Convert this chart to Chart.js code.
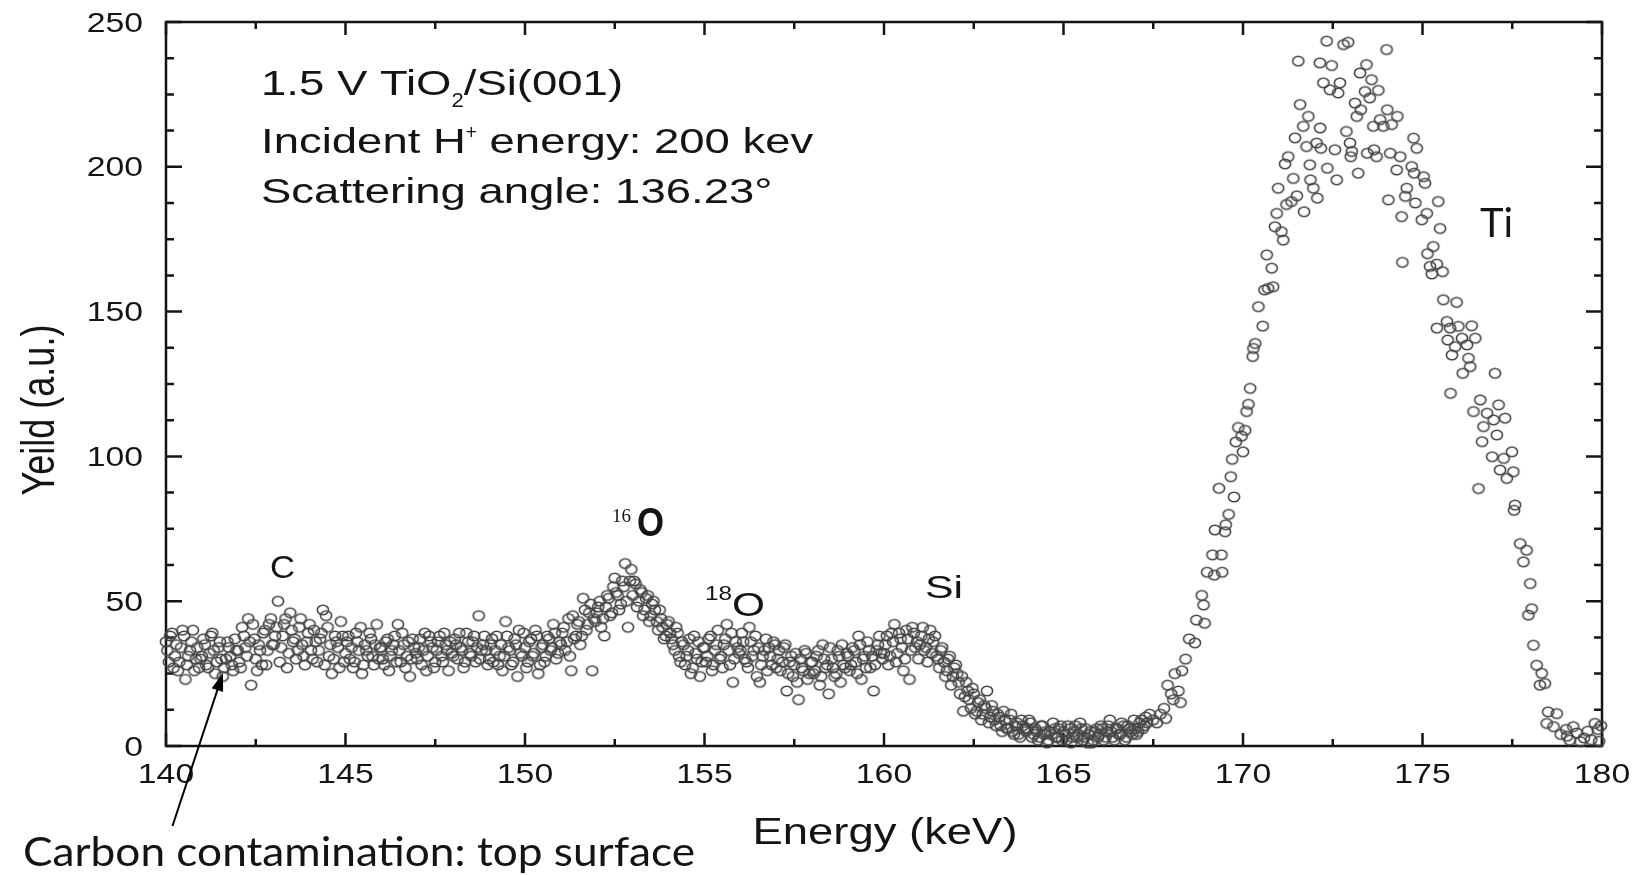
<!DOCTYPE html>
<html>
<head>
<meta charset="utf-8">
<title>RBS spectrum TiO2/Si(001)</title>
<script src="https://cdn.jsdelivr.net/npm/chart.js@4.4.1/dist/chart.umd.min.js"></script>
<style>
  html, body { margin: 0; padding: 0; background: #fff; }
  #wrap { width: 1635px; height: 875px; }
</style>
</head>
<body>
<div id="wrap"><canvas id="chart" width="1635" height="875"></canvas></div>
<script>
// axis ranges and tick labels
const xTicks = [140, 145, 150, 155, 160, 165, 170, 175, 180];
const yTicks = [0, 50, 100, 150, 200, 250];
const xMinorStep = 2.5;
const yMinorStep = 12.5;

// measured spectrum: energy (keV) and yield (a.u.)
const energyKeV = [
  140.04, 140.12, 140.21, 140.29, 140.37, 140.46, 140.54, 140.62, 140.71, 140.79, 140.87, 140.96,
  141.04, 141.12, 141.21, 141.29, 141.37, 141.46, 141.54, 141.62, 141.71, 141.79, 141.87, 141.96,
  142.04, 142.12, 142.21, 142.29, 142.37, 142.46, 142.54, 142.62, 142.71, 142.79, 142.87, 142.96,
  143.04, 143.12, 143.21, 143.29, 143.37, 143.46, 143.54, 143.62, 143.71, 143.79, 143.87, 143.96,
  144.04, 144.12, 144.21, 144.29, 144.37, 144.46, 144.54, 144.62, 144.71, 144.79, 144.87, 144.96,
  145.04, 145.12, 145.21, 145.29, 145.37, 145.46, 145.54, 145.62, 145.71, 145.79, 145.87, 145.96,
  146.04, 146.12, 146.21, 146.29, 146.37, 146.46, 146.54, 146.62, 146.71, 146.79, 146.87, 146.96,
  147.04, 147.12, 147.21, 147.29, 147.37, 147.46, 147.54, 147.62, 147.71, 147.79, 147.87, 147.96,
  148.04, 148.12, 148.21, 148.29, 148.37, 148.46, 148.54, 148.62, 148.71, 148.79, 148.87, 148.96,
  149.04, 149.12, 149.21, 149.29, 149.37, 149.46, 149.54, 149.62, 149.71, 149.79, 149.87, 149.96,
  150.04, 150.12, 150.21, 150.29, 150.37, 150.46, 150.54, 150.62, 150.71, 150.79, 150.87, 150.96,
  151.04, 151.12, 151.21, 151.29, 151.37, 151.46, 151.54, 151.62, 151.71, 151.79, 151.87, 151.96,
  152.04, 152.12, 152.21, 152.29, 152.37, 152.46, 152.54, 152.62, 152.71, 152.79, 152.87, 152.96,
  153.04, 153.12, 153.21, 153.29, 153.37, 153.46, 153.54, 153.62, 153.71, 153.79, 153.87, 153.96,
  154.04, 154.12, 154.21, 154.29, 154.37, 154.46, 154.54, 154.62, 154.71, 154.79, 154.87, 154.96,
  155.04, 155.12, 155.21, 155.29, 155.37, 155.46, 155.54, 155.62, 155.71, 155.79, 155.87, 155.96,
  156.04, 156.12, 156.21, 156.29, 156.37, 156.46, 156.54, 156.62, 156.71, 156.79, 156.87, 156.96,
  157.04, 157.12, 157.21, 157.29, 157.37, 157.46, 157.54, 157.62, 157.71, 157.79, 157.87, 157.96,
  158.04, 158.12, 158.21, 158.29, 158.37, 158.46, 158.54, 158.62, 158.71, 158.79, 158.87, 158.96,
  159.04, 159.12, 159.21, 159.29, 159.37, 159.46, 159.54, 159.62, 159.71, 159.79, 159.87, 159.96,
  160.04, 160.12, 160.21, 160.29, 160.37, 160.46, 160.54, 160.62, 160.71, 160.79, 160.87, 160.96,
  161.04, 161.12, 161.21, 161.29, 161.37, 161.46, 161.54, 161.62, 161.71, 161.79, 161.87, 161.96,
  162.04, 162.12, 162.21, 162.29, 162.37, 162.46, 162.54, 162.62, 162.71, 162.79, 162.87, 162.96,
  163.04, 163.12, 163.21, 163.29, 163.37, 163.46, 163.54, 163.62, 163.71, 163.79, 163.87, 163.96,
  164.04, 164.12, 164.21, 164.29, 164.37, 164.46, 164.54, 164.62, 164.71, 164.79, 164.87, 164.96,
  165.04, 165.12, 165.21, 165.29, 165.37, 165.46, 165.54, 165.62, 165.71, 165.79, 165.87, 165.96,
  166.04, 166.12, 166.21, 166.29, 166.37, 166.46, 166.54, 166.62, 166.71, 166.79, 166.87, 166.96,
  167.04, 167.12, 167.21, 167.29, 167.40, 167.50, 167.60, 167.70, 167.80, 167.85, 167.90, 168.00,
  168.06, 168.10, 168.20, 168.26, 168.30, 168.40, 168.50, 168.66, 168.70, 168.85, 168.90, 168.93,
  169.00, 169.15, 169.20, 169.22, 169.33, 169.40, 169.42, 169.50, 169.52, 169.60, 169.66, 169.70,
  169.75, 169.80, 169.87, 169.96, 170.00, 170.06, 170.10, 170.15, 170.20, 170.27, 170.29, 170.34,
  170.43, 170.55, 170.60, 170.66, 170.70, 170.80, 170.84, 170.89, 170.94, 170.98, 171.07, 171.12,
  171.17, 171.21, 171.26, 171.35, 171.40, 171.45, 171.50, 171.54, 171.59, 171.68, 171.70, 171.77,
  171.82, 171.86, 171.88, 171.96, 172.05, 172.07, 172.14, 172.15, 172.17, 172.24, 172.33, 172.35,
  172.42, 172.47, 172.56, 172.61, 172.65, 172.70, 172.80, 172.88, 172.93, 172.98, 173.00, 173.03,
  173.12, 173.17, 173.21, 173.26, 173.28, 173.40, 173.44, 173.46, 173.53, 173.58, 173.63, 173.65,
  173.72, 173.77, 173.82, 173.91, 174.00, 174.02, 174.05, 174.10, 174.14, 174.28, 174.30, 174.38,
  174.42, 174.44, 174.52, 174.56, 174.70, 174.75, 174.77, 174.80, 174.84, 174.98, 175.03, 175.07,
  175.12, 175.14, 175.21, 175.26, 175.30, 175.40, 175.44, 175.49, 175.56, 175.58, 175.95, 175.40,
  175.68, 175.70, 175.77, 175.78, 175.82, 175.91, 176.00, 176.10, 176.12, 176.24, 176.28, 176.33,
  176.37, 176.42, 176.47, 176.56, 176.61, 176.66, 176.70, 176.80, 176.94, 176.98, 177.02, 177.07,
  177.12, 177.16, 177.26, 177.30, 177.35, 177.49, 177.53, 177.55, 177.58, 177.72, 177.81, 177.90,
  177.95, 178.00, 178.04, 178.09, 178.18, 178.27, 178.32, 178.41, 178.46, 178.50, 178.65, 178.74,
  178.85, 179.00, 179.03, 179.10, 179.20, 179.30, 179.40, 179.50, 179.60, 179.70, 179.80, 179.88,
  179.92, 179.97,
  // second pass over the low-energy background
  140.00, 140.08, 140.17, 140.25, 140.33, 140.42, 140.50, 140.58, 140.67, 140.75, 140.83, 140.92,
  141.00, 141.08, 141.17, 141.25, 141.33, 141.42, 141.50, 141.58, 141.67, 141.75, 141.83, 141.92,
  142.00, 142.08, 142.17, 142.25, 142.33, 142.42, 142.50, 142.58, 142.67, 142.75, 142.83, 142.92,
  143.00, 143.08, 143.17, 143.25, 143.33, 143.42, 143.50, 143.58, 143.67, 143.75, 143.83, 143.92,
  144.00, 144.08, 144.17, 144.25, 144.33, 144.42, 144.50, 144.58, 144.67, 144.75, 144.83, 144.92,
  145.00, 145.08, 145.17, 145.25, 145.33, 145.42, 145.50, 145.58, 145.67, 145.75, 145.83, 145.92,
  146.00, 146.08, 146.17, 146.25, 146.33, 146.42, 146.50, 146.58, 146.67, 146.75, 146.83, 146.92,
  147.00, 147.08, 147.17, 147.25, 147.33, 147.42, 147.50, 147.58, 147.67, 147.75, 147.83, 147.92,
  148.00, 148.08, 148.17, 148.25, 148.33, 148.42, 148.50, 148.58, 148.67, 148.75, 148.83, 148.92,
  149.00, 149.08, 149.17, 149.25, 149.33, 149.42, 149.50, 149.58, 149.67, 149.75, 149.83, 149.92,
  150.00, 150.08, 150.17, 150.25, 150.33, 150.42, 150.50, 150.58, 150.67, 150.75, 150.83, 150.92,
  151.00, 151.08, 151.17, 151.25, 151.33, 151.42, 151.50, 151.58, 151.67, 151.75, 151.83, 151.92,
  152.00, 152.08, 152.17, 152.25, 152.33, 152.42, 152.50, 152.58, 152.67, 152.75, 152.83, 152.92,
  153.00, 153.08, 153.17, 153.25, 153.33, 153.42, 153.50, 153.58, 153.67, 153.75, 153.83, 153.92,
  154.00, 154.08, 154.17, 154.25, 154.33, 154.42, 154.50, 154.58, 154.67, 154.75, 154.83, 154.92,
  155.00, 155.08, 155.17, 155.25, 155.33, 155.42, 155.50, 155.58, 155.67, 155.75, 155.83, 155.92,
  156.00, 156.08, 156.17, 156.25, 156.33, 156.42, 156.50, 156.58, 156.67, 156.75, 156.83, 156.92,
  157.00, 157.08, 157.17, 157.25, 157.33, 157.42, 157.50, 157.58, 157.67, 157.75, 157.83, 157.92,
  158.00, 158.08, 158.17, 158.25, 158.33, 158.42, 158.50, 158.58, 158.67, 158.75, 158.83, 158.92,
  159.00, 159.08, 159.17, 159.25, 159.33, 159.42, 159.50, 159.58, 159.67, 159.75, 159.83, 159.92,
  160.00, 160.08, 160.17, 160.25, 160.33, 160.42, 160.50, 160.58, 160.67, 160.75, 160.83, 160.92,
  161.00, 161.08, 161.17, 161.25, 161.33, 161.42, 161.50, 161.58, 161.67, 161.75, 161.83, 161.92,
  162.00, 162.08, 162.17, 162.25, 162.33, 162.42, 162.50, 162.58, 162.67, 162.75, 162.83, 162.92,
  163.00, 163.08, 163.17, 163.25, 163.33, 163.42, 163.50, 163.58, 163.67, 163.75, 163.83, 163.92,
  164.00, 164.08, 164.17, 164.25, 164.33, 164.42, 164.50, 164.58, 164.67, 164.75, 164.83, 164.92,
  165.00, 165.08, 165.17, 165.25, 165.33, 165.42, 165.50, 165.58, 165.67, 165.75, 165.83, 165.92,
  166.00, 166.08, 166.17, 166.25, 166.33, 166.42, 166.50, 166.58, 166.67, 166.75, 166.83, 166.92,
  167.00, 167.08, 167.17, 167.25, 167.33
];

const yieldAu = [
  33, 38, 27, 35, 29, 40, 23, 31, 36, 26, 34, 30,
  37, 28, 32, 39, 25, 34, 30, 27, 36, 31, 26, 33,
  29, 41, 34, 44, 21, 37, 26, 33, 39, 28, 42, 35,
  38, 50, 34, 42, 27, 46, 36, 30, 41, 35, 28, 39,
  33, 40, 29, 37, 47, 45, 31, 25, 38, 34, 43, 29,
  36, 30, 27, 39, 33, 25, 35, 31, 37, 28, 42, 34,
  30, 36, 26, 33, 38, 42, 29, 35, 31, 24, 37, 32,
  34, 28, 39, 31, 36, 27, 33, 38, 29, 35, 26, 32,
  37, 30, 34, 27, 39, 32, 36, 29, 45, 33, 38, 28,
  35, 29, 38, 31, 26, 43, 34, 28, 37, 24, 32, 39,
  27, 36, 31, 40, 25, 34, 29, 38, 33, 42, 30, 36,
  39, 33, 44, 26, 37, 42, 35, 51, 40, 46, 26, 43,
  48, 41, 38, 52, 45, 55, 53, 47, 57, 63, 41, 61,
  57, 48, 54, 45, 51, 43, 49, 47, 40, 44, 37, 42,
  39, 35, 41, 31, 36, 28, 33, 25, 38, 30, 24, 34,
  29, 37, 26, 33, 40, 31, 35, 42, 28, 22, 36, 32,
  39, 30, 27, 36, 33, 24, 22, 31, 37, 34, 28, 35,
  30, 26, 34, 19, 29, 24, 32, 16, 27, 33, 23, 29,
  25, 31, 21, 35, 27, 18, 30, 24, 33, 22, 28, 32,
  26, 34, 29, 38, 23, 31, 36, 27, 19, 33, 38, 30,
  35, 28, 39, 42, 32, 37, 26, 40, 23, 41, 34, 30,
  38, 33, 29, 40, 36, 31, 27, 34, 24, 30, 21, 27,
  25, 18, 12, 22, 16, 20, 11, 15, 9, 14, 19, 10,
  12, 7, 10, 5, 9, 6, 11, 4, 8, 3, 7, 5,
  9, 3, 6, 2, 7, 4, 1, 5, 8, 3, 6, 2,
  4, 7, 1, 5, 3, 8, 2, 6, 4, 1, 5, 3,
  7, 2, 5, 9, 3, 6, 4, 8, 2, 7, 5, 9,
  4, 8, 6, 10, 11, 9, 8, 11, 13, 9.5, 21, 18,
  16, 25, 19, 15, 26, 30, 37, 35.6, 43.5, 52, 48.7, 42.4,
  60, 66, 59, 74.6, 89, 66, 60, 74, 76.4, 80, 93, 99,
  86, 105, 110, 107, 101.6, 109, 115.5, 118, 123.5, 134.5, 137.3, 139,
  151.7, 145, 157.5, 169.6, 158, 165, 158.6, 179.3, 183.9, 192.6, 177.6, 174.7,
  201, 187, 203.5, 188, 196, 210, 190, 236.5, 221.5, 214, 184.5, 207,
  217.4, 200.7, 195.5, 192.6, 208.2, 189.2, 235.9, 213.4, 206.4, 229, 243.4, 199.5,
  226.6, 235, 205.9, 195.5, 225.5, 229, 242.2, 212.2, 243, 208.2, 203.5, 205.3,
  222, 217.4, 197.8, 232.4, 219.7, 226, 235.3, 204.7, 223.8, 230.1, 214, 205.9,
  203.5, 226.4, 216.3, 214, 240.5, 219.7, 188.6, 204.7, 214.6, 198.9, 217.4, 203.5,
  182.8, 167, 189.8, 192.6, 200.1, 209.9, 197.8, 187.5, 206.4, 181.7, 196.6, 194.3,
  183.9, 170, 165.6, 163, 172.5, 166.4, 188, 178.7, 163.8, 154.1, 153.2, 144.3,
  146.6, 140.2, 144.3, 121.8, 135, 137.9, 144.9, 140.8, 128.7, 138.5, 133.9, 131,
  145.1, 115.5, 140.8, 88.9, 119.5, 105.1, 110.3, 114.9, 99.9, 112.6, 128.7, 107.4,
  117.8, 95.3, 99.3, 113.2, 92.4, 101.6, 94.7, 81.4, 83.2, 69.9, 63.6, 67.6,
  45.2, 56.1, 47.4, 34.8, 27.9, 21, 25.1, 21.6, 7.8, 11.8, 6.7, 11.2,
  4, 5.7, 3.4, 2, 6.7, 4.5, 1.5, 2.8, 5.1, 2.2, 7.8, 5.7,
  1.6, 7,
  // second pass over the low-energy background
  36, 29, 39, 31, 26, 34, 38, 28, 33, 40, 30, 27,
  31, 35, 27, 38, 33, 29, 36, 24, 30, 34, 28, 37,
  33, 27, 38, 31, 36, 42, 30, 35, 28, 40, 33, 44,
  35, 41, 29, 38, 44, 32, 40, 37, 33, 44, 31, 36,
  42, 30, 36, 33, 39, 28, 41, 35, 30, 36, 27, 38,
  32, 38, 34, 29, 36, 41, 28, 33, 39, 31, 35, 30,
  34, 28, 37, 31, 35, 29, 33, 39, 27, 36, 30, 34,
  30, 37, 33, 26, 38, 34, 29, 36, 31, 39, 33, 36,
  31, 35, 39, 33, 29, 36, 31, 38, 34, 30, 35, 33,
  30, 37, 33, 28, 35, 31, 38, 33, 29, 35, 40, 31,
  34, 29, 37, 32, 38, 28, 35, 31, 37, 34, 39, 32,
  35, 41, 36, 31, 45, 38, 43, 38, 47, 42, 49, 44,
  46, 50, 44, 48, 51, 46, 58, 52, 49, 55, 50, 57,
  52, 56, 50, 53, 47, 52, 45, 50, 43, 47, 41, 38,
  43, 37, 33, 39, 29, 35, 31, 37, 27, 32, 36, 29,
  34, 31, 38, 28, 35, 30, 27, 37, 33, 39, 30, 34,
  33, 36, 29, 41, 31, 38, 34, 28, 33, 26, 31, 36,
  27, 33, 29, 35, 25, 31, 28, 22, 30, 26, 32, 25,
  29, 26, 33, 24, 30, 28, 34, 27, 25, 31, 35, 27,
  31, 28, 33, 25, 35, 30, 27, 33, 31, 28, 35, 32,
  32, 38, 31, 36, 29, 39, 34, 30, 37, 33, 39, 36,
  35, 41, 34, 37, 32, 38, 30, 33, 29, 26, 31, 24,
  28, 22, 24, 17, 19, 13, 18, 12, 16, 11, 13, 8,
  14, 9, 11, 7, 12, 6, 9, 5, 7, 4, 9, 6,
  6, 8, 4, 5, 3, 7, 5, 2, 4, 6, 3, 7,
  5, 2, 6, 3, 7, 4, 6, 3, 1, 5, 2, 6,
  4, 6, 3, 7, 5, 2, 6, 4, 7, 3, 6, 4,
  6, 5, 9, 7, 8
];

const points = [];
for (let i = 0; i < Math.min(energyKeV.length, yieldAu.length); i++) {
  points.push({ x: energyKeV[i], y: yieldAu[i] });
}

// open, slightly wide ring used as the marker
function ringMarker() {
  const c = document.createElement('canvas');
  c.width = 16;
  c.height = 14;
  const g = c.getContext('2d');
  g.strokeStyle = '#444';
  g.lineWidth = 1.6;
  g.beginPath();
  g.ellipse(8, 7, 5.6, 4.7, 0, 0, Math.PI * 2);
  g.stroke();
  return c;
}

const INK = '#141414';
const SANS = '"Liberation Sans", Arial, sans-serif';

// draws text squeezed/stretched horizontally, returns drawn width
function drawText(ctx, str, x, y, font, sx, align) {
  ctx.save();
  ctx.font = font;
  ctx.fillStyle = INK;
  ctx.textAlign = align || 'left';
  ctx.textBaseline = 'alphabetic';
  ctx.translate(x, y);
  ctx.scale(sx, 1);
  ctx.fillText(str, 0, 0);
  const w = ctx.measureText(str).width * sx;
  ctx.restore();
  return w;
}

// same but scaled to a given width
function fitText(ctx, str, x, y, font, width, align) {
  ctx.save();
  ctx.font = font;
  const sx = width / ctx.measureText(str).width;
  ctx.restore();
  return drawText(ctx, str, x, y, font, sx, align);
}

const framePlugin = {
  id: 'frame',
  beforeDatasetsDraw(chart) {
    const { ctx, chartArea: a, scales } = chart;
    const xs = scales.x, ys = scales.y;
    ctx.save();
    ctx.strokeStyle = INK;
    ctx.lineWidth = 2.5;
    ctx.strokeRect(a.left, a.top, a.right - a.left, a.bottom - a.top);

    ctx.beginPath();
    for (let v = xs.min; v <= xs.max + 1e-9; v += xMinorStep) {
      const px = xs.getPixelForValue(v);
      const len = xTicks.includes(v) ? 13 : 7;
      ctx.moveTo(px, a.bottom); ctx.lineTo(px, a.bottom - len);
      ctx.moveTo(px, a.top); ctx.lineTo(px, a.top + len);
    }
    for (let v = ys.min; v <= ys.max + 1e-9; v += yMinorStep) {
      const py = ys.getPixelForValue(v);
      const len = yTicks.includes(v) ? 16 : 8;
      ctx.moveTo(a.left, py); ctx.lineTo(a.left + len, py);
      ctx.moveTo(a.right, py); ctx.lineTo(a.right - len, py);
    }
    ctx.stroke();
    ctx.restore();
  },
  afterDraw(chart) {
    const { ctx, chartArea: a, scales } = chart;
    const xs = scales.x, ys = scales.y;
    const tickFont = '27px ' + SANS;

    xTicks.forEach(v => {
      drawText(ctx, String(v), xs.getPixelForValue(v), a.bottom + 37, tickFont, 1.25, 'center');
    });
    yTicks.forEach(v => {
      drawText(ctx, String(v), a.left - 23, ys.getPixelForValue(v) + 9.5, tickFont, 1.25, 'right');
    });

    // axis titles
    fitText(ctx, 'Energy (keV)', 885, 844, '36px ' + SANS, 265, 'center');
    ctx.save();
    ctx.translate(54, 410);
    ctx.rotate(-Math.PI / 2);
    ctx.scale(1, 1.3);
    ctx.font = '36px ' + SANS;
    ctx.fillStyle = INK;
    ctx.textAlign = 'center';
    ctx.fillText('Yeild (a.u.)', 0, 0);
    ctx.restore();

    // sample description
    const big = '35px ' + SANS;
    const small = '21px ' + SANS;
    let x = 261;
    x += drawText(ctx, '1.5 V TiO', x, 95, big, 1.3);
    x += drawText(ctx, '2', x, 107, small, 1.05);
    drawText(ctx, '/Si(001)', x, 95, big, 1.3);
    x = 261;
    x += drawText(ctx, 'Incident H', x, 153, big, 1.3);
    x += drawText(ctx, '+', x, 139, small, 0.9);
    drawText(ctx, ' energy: 200 kev', x, 153, big, 1.3);
    drawText(ctx, 'Scattering angle: 136.23\u00b0', 261, 203, big, 1.3);

    // peak labels
    fitText(ctx, 'C', 270, 578, '32px ' + SANS, 25);
    drawText(ctx, '16', 612, 522, '19px "Liberation Serif", serif', 1.0);
    fitText(ctx, 'O', 637, 536, 'bold 40px ' + SANS, 27);
    fitText(ctx, '18', 705, 600, '21px ' + SANS, 27);
    fitText(ctx, 'O', 732, 616, '34px ' + SANS, 33);
    fitText(ctx, 'Si', 925, 598, '32px ' + SANS, 38);
    fitText(ctx, 'Ti', 1480, 237, '41px Lato, "Liberation Sans Narrow", sans-serif', 33);

    // note with arrow
    fitText(ctx, 'Carbon contamination: top surface', 23, 866, '41px Lato, "Noto Sans", sans-serif', 672);
    const tip = { x: 223, y: 673 };
    const tail = { x: 172.5, y: 826 };
    const ang = Math.atan2(tip.y - tail.y, tip.x - tail.x);
    ctx.save();
    ctx.strokeStyle = '#000';
    ctx.fillStyle = '#000';
    ctx.lineWidth = 2;
    ctx.beginPath();
    ctx.moveTo(tail.x, tail.y);
    ctx.lineTo(tip.x - 12 * Math.cos(ang), tip.y - 12 * Math.sin(ang));
    ctx.stroke();
    ctx.beginPath();
    ctx.moveTo(tip.x, tip.y);
    ctx.lineTo(tip.x - 18 * Math.cos(ang) + 6 * Math.sin(ang), tip.y - 18 * Math.sin(ang) - 6 * Math.cos(ang));
    ctx.lineTo(tip.x - 18 * Math.cos(ang) - 6 * Math.sin(ang), tip.y - 18 * Math.sin(ang) + 6 * Math.cos(ang));
    ctx.closePath();
    ctx.fill();
    ctx.restore();
  }
};

const chartCtx = document.getElementById('chart').getContext('2d');
const rbsChart = new Chart(chartCtx, {
  type: 'scatter',
  data: {
    datasets: [{
      label: 'TiO2/Si(001)',
      data: points,
      pointStyle: ringMarker(),
      pointRadius: 5,
      borderWidth: 0,
      clip: false
    }]
  },
  options: {
    responsive: false,
    animation: false,
    devicePixelRatio: 1,
    layout: { padding: { left: 166, top: 22, right: 33, bottom: 129 } },
    plugins: {
      legend: { display: false },
      tooltip: { enabled: false }
    },
    scales: {
      x: { type: 'linear', min: 140, max: 180, display: false },
      y: { type: 'linear', min: 0, max: 250, display: false }
    }
  },
  plugins: [framePlugin]
});
</script>
</body>
</html>
